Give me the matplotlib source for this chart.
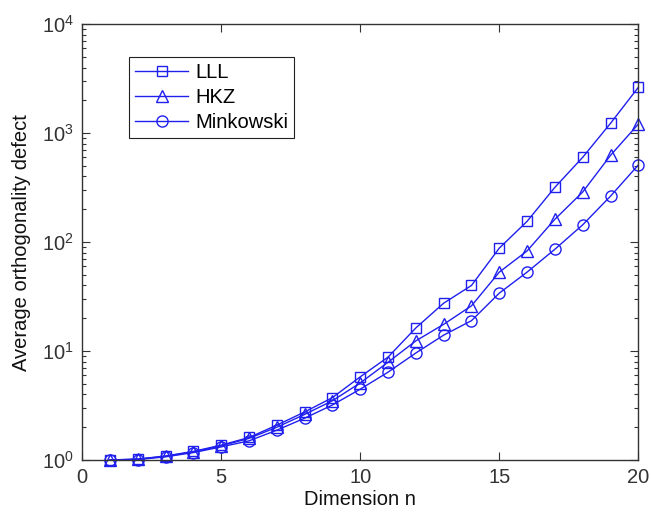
import matplotlib
matplotlib.use("Agg")
import matplotlib.pyplot as plt
from matplotlib.ticker import LogLocator, FixedLocator, NullFormatter, LogFormatterSciNotation

plt.rcParams['font.family'] = ['Liberation Sans', 'DejaVu Sans']
plt.rcParams['mathtext.fontset'] = 'custom'
plt.rcParams['mathtext.rm'] = 'Liberation Sans'
plt.rcParams['mathtext.it'] = 'Liberation Sans:italic'

n = list(range(1, 21))
lll = [1.0, 1.02, 1.09, 1.2, 1.37, 1.61, 2.09, 2.76, 3.74, 5.8, 8.8, 16.3, 27.5, 40, 88, 155, 318, 600, 1230, 2630]
hkz = [1.0, 1.02, 1.08, 1.19, 1.35, 1.58, 2.0, 2.62, 3.5, 5.1, 7.9, 12.4, 17.6, 26, 53, 83, 162, 288, 625, 1210]
mink = [1.0, 1.01, 1.07, 1.17, 1.32, 1.5, 1.88, 2.42, 3.2, 4.47, 6.4, 9.6, 14, 19, 34, 53, 86, 144, 264, 510]

xticks = [0, 5, 10, 15, 20]
color = '#1f1fee'

fig = plt.figure(figsize=(6.52, 5.14), dpi=100)
ax = fig.add_axes([0.126, 0.105, 0.853, 0.848])

ms = 7
ax.plot(n, lll, '-s', color=color, mfc='none', mec=color, ms=ms, lw=1.0, label='LLL', clip_on=False)
ax.plot(n, hkz, '-^', color=color, mfc='none', mec=color, ms=ms + 1, lw=1.0, label='HKZ', clip_on=False)
ax.plot(n, mink, '-o', color=color, mfc='none', mec=color, ms=ms + 1, lw=1.0, label='Minkowski', clip_on=False)

ax.set_yscale('log')
ax.set_xlim(0, 20)
ax.set_ylim(1, 1e4)
ax.xaxis.set_major_locator(FixedLocator(xticks))
ax.yaxis.set_major_locator(LogLocator(base=10, numticks=10))
ax.yaxis.set_minor_locator(LogLocator(base=10, subs=range(2, 10), numticks=10))
ax.yaxis.set_minor_formatter(NullFormatter())
ax.yaxis.set_major_formatter(LogFormatterSciNotation())

ax.tick_params(which='both', direction='in', top=True, right=True, labelsize=14.5, colors='#333333')
ax.tick_params(axis='x', pad=6)
ax.tick_params(axis='y', pad=6)
ax.tick_params(which='major', length=6, width=0.8)
ax.tick_params(which='minor', length=3, width=0.8)
for s in ax.spines.values():
    s.set_color('#333333')
    s.set_linewidth(1.0)

ax.set_xlabel('Dimension n', fontsize=14.5, color='#111111', labelpad=2)
ax.set_ylabel('Average orthogonality defect', fontsize=14.5, color='#111111', labelpad=8)

leg = ax.legend(loc='upper left', bbox_to_anchor=(0.085, 0.924), fontsize=14.5, fancybox=False,
                edgecolor='#222222', framealpha=1, borderpad=0.3, handlelength=2.6,
                labelspacing=0.3, handletextpad=0.35, borderaxespad=0)
leg.get_frame().set_linewidth(0.8)

fig.savefig('out.png', dpi=100)
